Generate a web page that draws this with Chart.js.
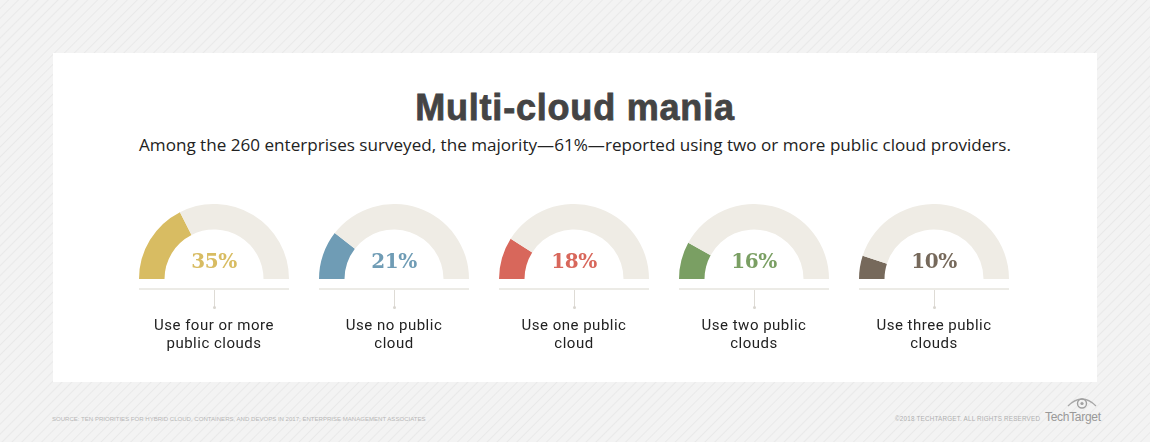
<!DOCTYPE html>
<html>
<head>
<meta charset="utf-8">
<script src="https://cdn.jsdelivr.net/npm/chart.js@4.4.0/dist/chart.umd.min.js"></script>
<style>
  html, body { margin: 0; padding: 0; }
  body {
    width: 1150px; height: 442px; position: relative; overflow: hidden;
    background: #f3f3f3;
    background-image: repeating-linear-gradient(135deg, #f3f3f3 0px, #f3f3f3 5px, #e9e9e9 6px, #f3f3f3 7px);
    font-family: "Open Sans", "Noto Sans", sans-serif;
  }
  #panel { position: absolute; left: 53px; top: 53px; width: 1044px; height: 329px; background: #fff; }
  #title { position: absolute; left: 0; width: 1150px; top: 87px; text-align: center;
    font-family: "Liberation Sans", Arial, sans-serif; font-weight: bold; font-size: 36px; color: #444;
    letter-spacing: 0.8px; -webkit-text-stroke: 0.8px #444; }
  #subtitle { position: absolute; left: 0; width: 1150px; top: 133px; text-align: center;
    font-size: 17.1px; color: #222; }
  .gauge { position: absolute; top: 204px; }
  .pct { position: absolute; top: 249px; width: 120px; text-align: center;
    font-family: "DejaVu Serif", serif; font-weight: bold; font-size: 20px; letter-spacing: -0.5px; }
  .base { position: absolute; top: 288px; width: 150px; height: 2px; background: #ecebe6; }
  .tick { position: absolute; top: 290px; width: 1px; height: 17px; background: #dedbd5; }
  .dot { position: absolute; top: 306px; width: 3px; height: 3px; border-radius: 2px; background: #d8d5cf; }
  .label { position: absolute; top: 317px; width: 170px; text-align: center;
    font-family: Roboto, "Open Sans", sans-serif; font-size: 15px; line-height: 17.6px; color: #222;
    letter-spacing: 0.5px; }
  #source { position: absolute; left: 52px; top: 416px; font-family: "Liberation Sans Narrow", "Liberation Sans", sans-serif;
    font-size: 6.05px; color: #b8b8b8; white-space: nowrap; }
  #copy { position: absolute; left: 895px; top: 415px; font-family: "Liberation Sans Narrow", "Liberation Sans", sans-serif;
    font-size: 6.3px; color: #b0b0b0; white-space: nowrap; letter-spacing: 0.2px; }
  #logo { position: absolute; left: 1045px; top: 410px; font-family: "Liberation Sans Narrow", "Liberation Sans", sans-serif;
    font-size: 12px; color: #999; letter-spacing: -0.3px; }
  #eye { position: absolute; left: 1066px; top: 395px; }
</style>
</head>
<body>
<div id="panel"></div>
<div id="title">Multi-cloud mania</div>
<div id="subtitle">Among the 260 enterprises surveyed, the majority—61%—reported using two or more public cloud providers.</div>
<div id="gauges"></div>
<div id="source">SOURCE: TEN PRIORITIES FOR HYBRID CLOUD, CONTAINERS, AND DEVOPS IN 2017; ENTERPRISE MANAGEMENT ASSOCIATES</div>
<div id="copy">©2018 TECHTARGET. ALL RIGHTS RESERVED</div>
<div id="logo">TechTarget</div>
<svg id="eye" width="32" height="16" viewBox="0 0 32 16">
  <path d="M2 11 Q16 -3 30 11" fill="none" stroke="#a8a8a8" stroke-width="1.2"/>
  <circle cx="16" cy="8.5" r="4.5" fill="none" stroke="#a0a0a0" stroke-width="1.4"/>
  <circle cx="16" cy="8.5" r="1.6" fill="#a0a0a0"/>
</svg>
<script>
const categories = [
  ['Use four or more', 'public clouds'],
  ['Use no public', 'cloud'],
  ['Use one public', 'cloud'],
  ['Use two public', 'clouds'],
  ['Use three public', 'clouds']
];
const shares = [35, 21, 18, 16, 10];
const colours = ['#d8bc62', '#6f9cb5', '#d8675b', '#7a9f63', '#76695b'];
const trackColour = '#efece5';
const centres = [214, 394, 574, 754, 934];

const holder = document.getElementById('gauges');

shares.forEach((v, i) => {
  const cx = centres[i];

  const canvas = document.createElement('canvas');
  canvas.className = 'gauge';
  canvas.width = 150;
  canvas.height = 75;
  canvas.style.left = (cx - 75) + 'px';
  canvas.style.width = '150px';
  canvas.style.height = '75px';
  holder.appendChild(canvas);

  new Chart(canvas, {
    type: 'doughnut',
    data: {
      labels: [categories[i].join(' '), ''],
      datasets: [{
        data: [v, 100 - v],
        backgroundColor: [colours[i], trackColour],
        borderWidth: 0
      }]
    },
    options: {
      responsive: false,
      animation: false,
      rotation: -90,
      circumference: 180,
      cutout: '66%',
      layout: { padding: 0 },
      plugins: { legend: { display: false }, tooltip: { enabled: false } }
    }
  });

  const pct = document.createElement('div');
  pct.className = 'pct';
  pct.style.left = (cx - 60) + 'px';
  pct.style.color = colours[i];
  pct.textContent = v + '%';
  holder.appendChild(pct);

  const base = document.createElement('div');
  base.className = 'base';
  base.style.left = (cx - 75) + 'px';
  holder.appendChild(base);

  const tick = document.createElement('div');
  tick.className = 'tick';
  tick.style.left = cx + 'px';
  holder.appendChild(tick);

  const dot = document.createElement('div');
  dot.className = 'dot';
  dot.style.left = (cx - 1) + 'px';
  holder.appendChild(dot);

  const label = document.createElement('div');
  label.className = 'label';
  label.style.left = (cx - 85) + 'px';
  label.innerHTML = categories[i].join('<br>');
  holder.appendChild(label);
});
</script>
</body>
</html>
